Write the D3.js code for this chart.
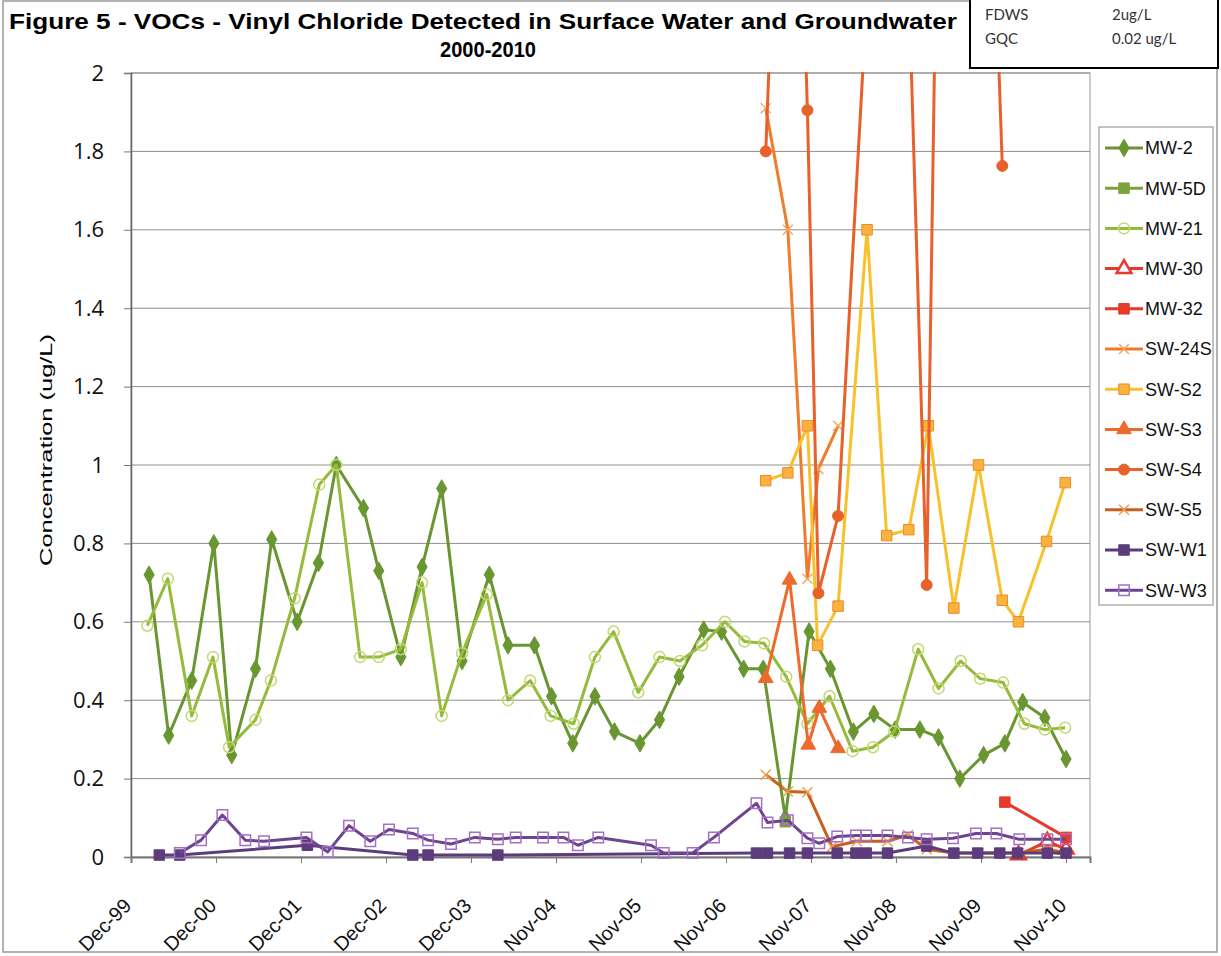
<!DOCTYPE html>
<html>
<head>
<meta charset="utf-8" />
<title>Figure 5 - VOCs - Vinyl Chloride</title>
<script src="https://cdnjs.cloudflare.com/ajax/libs/d3/7.8.5/d3.min.js"></script>
<style>
html, body {
	margin: 0;
	background: #fff;
}
svg {
	display: block;
	font-family: "Liberation Sans", Arial, sans-serif;
}
</style>
</head>
<body>

<svg id="chart" width="1221" height="956"></svg>

<script>

// sample dates are decimal years, values in ug/L
var mw2 = [[2000.13,0.72],[2000.36,0.31],[2000.63,0.45],[2000.89,0.80],[2001.10,0.26],[2001.38,0.48],
  [2001.57,0.81],[2001.87,0.60],[2002.12,0.75],[2002.33,1.00],[2002.65,0.89],[2002.83,0.73],[2003.09,0.51],
  [2003.34,0.74],[2003.57,0.94],[2003.81,0.50],[2004.13,0.72],[2004.35,0.54],[2004.66,0.54],[2004.86,0.41],
  [2005.11,0.29],[2005.37,0.41],[2005.60,0.32],[2005.90,0.29],[2006.13,0.35],[2006.36,0.46],[2006.65,0.58],
  [2006.86,0.575],[2007.12,0.48],[2007.35,0.48],[2007.61,0.10],[2007.89,0.575],[2008.14,0.48],[2008.41,0.32],
  [2008.65,0.365],[2008.90,0.325],[2009.19,0.325],[2009.41,0.305],[2009.66,0.20],[2009.94,0.26],[2010.19,0.29],
  [2010.40,0.395],[2010.66,0.355],[2010.91,0.25]];
var mw5d = [[2007.61,0.09]];
var mw21 = [[2000.11,0.59],[2000.35,0.71],[2000.63,0.36],[2000.88,0.51],[2001.07,0.28],[2001.38,0.35],
  [2001.56,0.45],[2001.84,0.66],[2002.13,0.95],[2002.33,1.00],[2002.61,0.51],[2002.83,0.51],[2003.09,0.53],
  [2003.34,0.70],[2003.57,0.36],[2003.81,0.52],[2004.10,0.67],[2004.35,0.40],[2004.61,0.45],[2004.85,0.36],
  [2005.12,0.34],[2005.37,0.51],[2005.59,0.575],[2005.88,0.42],[2006.13,0.51],[2006.37,0.50],[2006.63,0.54],
  [2006.90,0.60],[2007.13,0.55],[2007.36,0.545],[2007.62,0.46],[2007.87,0.34],[2008.13,0.41],[2008.40,0.27],
  [2008.64,0.28],[2008.89,0.32],[2009.17,0.53],[2009.41,0.43],[2009.67,0.50],[2009.90,0.455],[2010.17,0.445],
  [2010.42,0.34],[2010.66,0.325],[2010.90,0.33]];
var mw30 = [[2010.35,0.005],[2010.69,0.04],[2010.91,0.02]];
var mw32 = [[2010.19,0.14],[2010.91,0.05]];
var sw24s = [[2007.38,1.91],[2007.64,1.60],[2007.87,0.71],[2008.00,0.99],[2008.23,1.10]];
var swS2 = [[2007.38,0.96],[2007.64,0.98],[2007.87,1.10],[2007.99,0.54],[2008.23,0.64],[2008.57,1.60],
  [2008.80,0.82],[2009.06,0.835],[2009.29,1.10],[2009.59,0.635],[2009.88,1.00],[2010.16,0.655],[2010.35,0.60],
  [2010.68,0.805],[2010.90,0.955]];
var swS3 = [[2007.38,0.456],[2007.66,0.707],[2007.88,0.286],[2008.01,0.38],[2008.23,0.277]];
var swS4 = [[2007.38,1.80],[2007.66,3.4],[2007.87,1.905],[2008.00,0.673],[2008.23,0.87],[2008.57,2.2],
  [2008.81,3.0],[2009.05,2.3],[2009.27,0.694],[2009.59,5.3],[2010.16,1.763]];
var swS5 = [[2007.38,0.21],[2007.64,0.167],[2007.87,0.165],[2008.16,0.026],[2008.45,0.04],[2008.81,0.04],
  [2009.05,0.056],[2009.27,0.02],[2009.59,0.01],[2009.88,0.01],[2010.35,0.01],[2010.69,0.02],[2010.91,0.01]];
var swW1 = [[2000.25,0.005],[2000.49,0.005],[2001.99,0.03],[2003.23,0.005],[2003.41,0.005],[2004.23,0.005],
  [2007.27,0.01],[2007.40,0.01],[2007.66,0.01],[2007.87,0.01],[2008.22,0.01],[2008.44,0.01],[2008.56,0.01],
  [2008.81,0.01],[2009.27,0.028],[2009.59,0.01],[2009.87,0.01],[2010.13,0.01],[2010.34,0.01],[2010.69,0.01],
  [2010.91,0.01]];
var swW3 = [[2000.49,0.01],[2000.74,0.043],[2000.99,0.107],[2001.26,0.043],[2001.48,0.04],[2001.98,0.05],
  [2002.23,0.013],[2002.48,0.08],[2002.73,0.04],[2002.95,0.07],[2003.23,0.06],[2003.41,0.043],[2003.68,0.033],
  [2003.96,0.05],[2004.23,0.045],[2004.44,0.05],[2004.76,0.05],[2005.00,0.05],[2005.17,0.03],[2005.41,0.05],
  [2006.03,0.03],[2006.18,0.01],[2006.52,0.01],[2006.77,0.05],[2007.27,0.137],[2007.40,0.088],[2007.64,0.094],
  [2007.87,0.048],[2008.01,0.035],[2008.22,0.052],[2008.44,0.055],[2008.56,0.055],[2008.81,0.055],[2009.05,0.05],
  [2009.27,0.045],[2009.58,0.048],[2009.85,0.06],[2010.09,0.06],[2010.36,0.045],[2010.69,0.045],[2010.91,0.045]];

var tickLabels = ["Dec-99","Dec-00","Dec-01","Dec-02","Dec-03","Nov-04","Nov-05","Nov-06","Nov-07","Nov-08","Nov-09","Nov-10"];
var yTicks = [0, 0.2, 0.4, 0.6, 0.8, 1, 1.2, 1.4, 1.6, 1.8, 2];
var limitNames = ["FDWS", "GQC"];
var limitValues = ["2ug/L", "0.02 ug/L"];

var series = [
  {name: "MW-2",   data: mw2,   color: "#6a9632", marker: "diamond"},
  {name: "MW-5D",  data: mw5d,  color: "#7ca33c", marker: "square"},
  {name: "MW-21",  data: mw21,  color: "#94bb3c", marker: "ocircle", mstroke: "#c4d872"},
  {name: "MW-30",  data: mw30,  color: "#e8392c", marker: "otriangle"},
  {name: "MW-32",  data: mw32,  color: "#e53a2c", marker: "square"},
  {name: "SW-24S", data: sw24s, color: "#ef7b2b", marker: "x", mstroke: "#f5a862"},
  {name: "SW-S2",  data: swS2,  color: "#f8c12c", marker: "square", mfill: "#f9b23e", mstroke: "#ef8a2c"},
  {name: "SW-S3",  data: swS3,  color: "#ee6a2c", marker: "triangle"},
  {name: "SW-S4",  data: swS4,  color: "#e8612b", marker: "circle"},
  {name: "SW-S5",  data: swS5,  color: "#c6601c", marker: "x", mstroke: "#f19c52"},
  {name: "SW-W1",  data: swW1,  color: "#5d3c7d", marker: "square"},
  {name: "SW-W3",  data: swW3,  color: "#6c4590", marker: "osquare", mstroke: "#a56fc4"}
];

function toDate(dy) {
  var yr = Math.floor(dy);
  var s = Date.UTC(yr, 0, 1), e = Date.UTC(yr + 1, 0, 1);
  return new Date(s + (dy - yr) * (e - s));
}

var svg = d3.select("#chart");
var plot = {left: 131, right: 1090, top: 73, bottom: 857};

// Excel date axis: major unit of 365 days
var axisStart = new Date(Date.UTC(1999, 11, 2));
var tickDates = tickLabels.map(function(d, i) { return d3.utcDay.offset(axisStart, 365 * i); });

var x = d3.scaleUtc()
  .domain([axisStart, d3.utcDay.offset(axisStart, 4118)])
  .range([plot.left, plot.right]);
var y = d3.scaleLinear().domain([0, 2]).range([plot.bottom, plot.top]);

// chart area border
svg.append("rect").attr("x", 3).attr("y", 1).attr("width", 1214).attr("height", 951)
  .attr("fill", "none").attr("stroke", "#999").attr("stroke-width", 1.5);

// title
svg.append("text").attr("x", 483).attr("y", 29).attr("text-anchor", "middle")
  .attr("font-weight", "bold").attr("font-size", 22)
  .attr("textLength", 948).attr("lengthAdjust", "spacingAndGlyphs")
  .text("Figure 5 - VOCs -  Vinyl Chloride Detected in Surface Water and Groundwater");
svg.append("text").attr("x", 488).attr("y", 57).attr("text-anchor", "middle")
  .attr("font-weight", "bold").attr("font-size", 22)
  .attr("textLength", 96).attr("lengthAdjust", "spacingAndGlyphs")
  .text("2000-2010");

// standards box
svg.append("rect").attr("x", 970).attr("y", -4).attr("width", 248).attr("height", 72)
  .attr("fill", "#fff").attr("stroke", "#000").attr("stroke-width", 2);
limitNames.forEach(function(n, i) {
  svg.append("text").attr("x", 985).attr("y", 20 + i * 24).attr("font-family", "Lato")
    .attr("font-size", 15).attr("fill", "#333").text(n);
  svg.append("text").attr("x", 1112).attr("y", 20 + i * 24).attr("font-family", "Lato")
    .attr("font-size", 15).attr("fill", "#333").text(limitValues[i]);
});

// plot area + gridlines
svg.append("rect").attr("x", plot.left).attr("y", plot.top)
  .attr("width", plot.right - plot.left).attr("height", plot.bottom - plot.top)
  .attr("fill", "#fff").attr("stroke", "#9a9a9a");

svg.append("g").selectAll("line").data(yTicks.slice(1)).enter().append("line")
  .attr("x1", plot.left).attr("x2", plot.right)
  .attr("y1", function(d) { return y(d); }).attr("y2", function(d) { return y(d); })
  .attr("stroke", "#8f8f8f").attr("stroke-width", 1);

// y axis
var yAxis = svg.append("g").attr("transform", "translate(" + plot.left + ",0)")
  .call(d3.axisLeft(y).tickValues(yTicks).tickSize(7).tickPadding(20).tickFormat(d3.format("")));
yAxis.select(".domain").attr("stroke", "#666").attr("stroke-width", 1.5);
yAxis.selectAll(".tick line").attr("stroke", "#777");
yAxis.selectAll("text").attr("font-family", "'Open Sans'").attr("font-size", 22).attr("fill", "#111");

svg.append("text").attr("transform", "translate(52,450) rotate(-90)")
  .attr("text-anchor", "middle").attr("font-size", 17)
  .attr("textLength", 232).attr("lengthAdjust", "spacingAndGlyphs")
  .text("Concentration (ug/L)");

// x axis
var xAxis = svg.append("g").attr("transform", "translate(0," + plot.bottom + ")")
  .call(d3.axisBottom(x).tickValues(tickDates).tickSize(6)
    .tickFormat(function(d, i) { return tickLabels[i]; }));
xAxis.select(".domain").attr("stroke", "#777").attr("stroke-width", 2);
xAxis.selectAll(".tick line").attr("stroke", "#777");
xAxis.selectAll("text")
  .attr("font-size", 20).attr("fill", "#111")
  .attr("text-anchor", "end")
  .attr("dy", 0).attr("y", 0)
  .attr("transform", "translate(1,50) rotate(-45)");

// series
svg.append("clipPath").attr("id", "clip").append("rect")
  .attr("x", plot.left).attr("y", plot.top - 1)
  .attr("width", plot.right - plot.left).attr("height", plot.bottom - plot.top + 8);

var line = d3.line()
  .x(function(d) { return x(toDate(d[0])); })
  .y(function(d) { return y(d[1]); });

function markerPath(type) {
  if (type == "diamond") return d3.symbol().type(d3.symbolDiamond).size(90)();
  if (type == "square" || type == "osquare") return d3.symbol().type(d3.symbolSquare).size(110)();
  if (type == "circle" || type == "ocircle") return d3.symbol().type(d3.symbolCircle).size(95)();
  if (type == "triangle" || type == "otriangle") return d3.symbol().type(d3.symbolTriangle).size(95)();
  return "M-5,-5L5,5M-5,5L5,-5";
}

var marks = svg.append("g").attr("clip-path", "url(#clip)");

series.forEach(function(s) {
  var g = marks.append("g");
  if (s.data.length > 1) {
    g.append("path").datum(s.data).attr("d", line)
      .attr("fill", "none").attr("stroke", s.color).attr("stroke-width", 3)
      .attr("stroke-linejoin", "round");
  }
  g.selectAll("path.m").data(s.data).enter().append("path").attr("class", "m")
    .attr("transform", function(d) { return "translate(" + x(toDate(d[0])) + "," + y(d[1]) + ")"; })
    .attr("d", markerPath(s.marker))
    .call(styleMarker, s);
});

function styleMarker(sel, s) {
  var open = s.marker == "ocircle" || s.marker == "osquare" || s.marker == "otriangle";
  if (s.marker == "x") {
    sel.attr("fill", "none").attr("stroke", s.mstroke).attr("stroke-width", 1.5);
  } else if (open) {
    sel.attr("fill", s.marker == "otriangle" ? "#fff" : "none")
      .attr("stroke", s.mstroke || s.color).attr("stroke-width", s.marker == "otriangle" ? 2.5 : 1.5);
  } else {
    sel.attr("fill", s.mfill || s.color).attr("stroke", s.mstroke || s.color).attr("stroke-width", 1);
  }
}

// legend
var legend = svg.append("g");
legend.append("rect").attr("x", 1099).attr("y", 127).attr("width", 114).attr("height", 478)
  .attr("fill", "#fff").attr("stroke", "#888");

series.forEach(function(s, i) {
  var ly = 148 + i * 40.2;
  legend.append("line").attr("x1", 1105).attr("x2", 1143).attr("y1", ly).attr("y2", ly)
    .attr("stroke", s.color).attr("stroke-width", 3);
  legend.append("path").attr("transform", "translate(1124," + ly + ")")
    .attr("d", markerPath(s.marker)).call(styleMarker, s);
  legend.append("text").attr("x", 1145).attr("y", ly).attr("dy", "0.36em")
    .attr("font-size", 18).attr("fill", "#111").text(s.name);
});

</script>
</body>
</html>
